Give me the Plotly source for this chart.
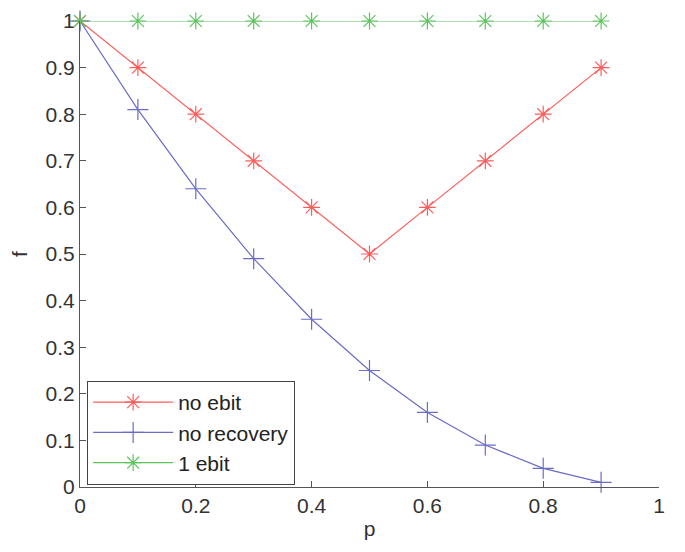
import plotly.graph_objects as go

p_vals = [0, 0.1, 0.2, 0.3, 0.4, 0.5, 0.6, 0.7, 0.8, 0.9]
f_no_ebit = [1, 0.9, 0.8, 0.7, 0.6, 0.5, 0.6, 0.7, 0.8, 0.9]
f_no_recovery = [1, 0.81, 0.64, 0.49, 0.36, 0.25, 0.16, 0.09, 0.04, 0.01]
f_one_ebit = [1, 1, 1, 1, 1, 1, 1, 1, 1, 1]

x_ticks = [0, 0.2, 0.4, 0.6, 0.8, 1]
x_tick_labels = ["0", "0.2", "0.4", "0.6", "0.8", "1"]
y_ticks = [0, 0.1, 0.2, 0.3, 0.4, 0.5, 0.6, 0.7, 0.8, 0.9, 1]
y_tick_labels = ["0", "0.1", "0.2", "0.3", "0.4", "0.5", "0.6", "0.7", "0.8", "0.9", "1"]

RED = "#ff5c5c"
BLUE = "#6b6bc8"
GREEN = "#5ec45e"
FONT = "Liberation Sans, Arial"

fig = go.Figure()
fig.add_trace(go.Scatter(x=p_vals, y=f_no_ebit, mode="lines+markers", name="no ebit",
                         legendgroup="a", cliponaxis=False,
                         line=dict(color=RED, width=1.2),
                         marker=dict(symbol="asterisk-open", size=14, color=RED,
                                     line=dict(color=RED, width=1.2))))
fig.add_trace(go.Scatter(x=p_vals, y=f_no_recovery, mode="lines+markers", name="no recovery",
                         legendgroup="b", cliponaxis=False,
                         line=dict(color=BLUE, width=1.2),
                         marker=dict(symbol="cross-thin-open", size=15, color=BLUE,
                                     line=dict(color=BLUE, width=1.2))))
fig.add_trace(go.Scatter(x=p_vals, y=f_one_ebit, mode="lines+markers", name="1 ebit",
                         legendgroup="c", cliponaxis=False,
                         line=dict(color=GREEN, width=1.2),
                         marker=dict(symbol="asterisk-open", size=14, color=GREEN,
                                     line=dict(color=GREEN, width=1.2))))

axis_common = dict(showgrid=False, zeroline=False, showline=True, linecolor="#555555",
                   linewidth=1.2, ticks="inside", ticklen=6, tickcolor="#555555",
                   tickfont=dict(family=FONT, size=21, color="#333333"),
                   mirror=False, automargin=False, ticklabeloverflow="allow")

fig.update_xaxes(range=[0, 1], tickvals=x_ticks, ticktext=x_tick_labels,
                 title=dict(text="p", font=dict(family=FONT, size=21, color="#333333"),
                            standoff=5), **axis_common)
fig.update_yaxes(range=[0, 1], tickvals=y_ticks, ticktext=y_tick_labels,
                 title=dict(text="f", font=dict(family=FONT, size=21, color="#333333"),
                            standoff=12), **axis_common)

fig.update_layout(
    width=685, height=552,
    margin=dict(l=72, r=34, t=13, b=73),
    paper_bgcolor="white", plot_bgcolor="white",
    showlegend=True,
    legend=dict(x=0.012, y=0.228, xanchor="left", yanchor="top",
                bgcolor="white", bordercolor="#444444", borderwidth=1.2,
                font=dict(family=FONT, size=21, color="#222222"),
                traceorder="grouped", tracegroupgap=0, itemwidth=80),
)

fig.write_html("out.html")
